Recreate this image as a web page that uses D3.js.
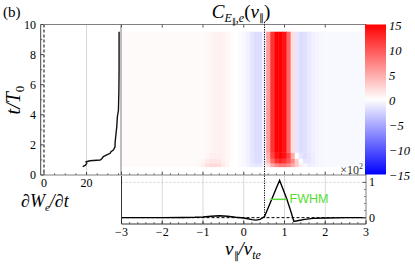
<!DOCTYPE html>
<html><head><meta charset="utf-8">
<script src="https://cdn.jsdelivr.net/npm/d3@7"></script>
<style>html,body{margin:0;padding:0;background:#fff;}svg{display:block;}</style>
</head><body>
<svg id="c" width="415" height="264"></svg>
<script>
// ---------- data ----------
// left panel: dW_e/dt vs t
const tW   = [0.55,0.65,0.78,0.88,0.95,1.0,1.1,1.22,1.33,1.44,1.55,1.66,1.88,2.1,2.54,3.2,3.87,4.3,5.5,7.0,8.5,9.52];
const dWdt = [18.2,19.5,20.1,19.8,21.6,26.4,27.3,27.9,29.5,31.1,31.5,32.6,33.4,33.4,33.7,34.2,34.5,35.0,35.2,35.3,35.3,35.3];
const leftXTicks = [0,20];
const leftYTicks = [0,2,4,6,8,10];

// heatmap: v bin centres (-3..3 step 0.1) and rows in time
const vBins = d3.range(61).map(i => +(-3 + 0.1*i).toFixed(1));
const tRowEdges = [0.55,0.8,1.1,1.5,9.52];
const heatRow0 = [0.3,0.3,0.3,0.3,0.3,0.3,0.3,0.3,0.3,0.3,0.3,0.3,0.3,0.3,0.3,0.3,0.3,0.3,0.3,0.5,
  1.0,1.8,2.2,2.2,2.0,1.2,0.6,0.2,0.0,-0.2,
  -0.4,-0.8,-1.2,-1.5,-1.5,-0.5,2,5,7,8,
  8,7,5,3,1,-0.5,-1.0,-0.8,-0.6,-0.5,
  -0.4,-0.4,-0.4,-0.4,-0.4,-0.4,-0.4,-0.4,-0.4,-0.4,-0.4];
const heatRow1 = [0.3,0.3,0.3,0.3,0.3,0.3,0.3,0.3,0.3,0.3,0.3,0.3,0.3,0.3,0.3,0.3,0.3,0.3,0.3,0.4,
  0.6,1.2,1.5,1.5,1.4,0.9,0.5,0.2,0.0,-0.2,
  -0.4,-0.8,-1.5,-2.0,-2.0,-0.8,4,9,12,13,
  12,10,7,3,0,-1.5,-1.5,-1.0,-0.6,-0.5,
  -0.4,-0.4,-0.4,-0.4,-0.4,-0.4,-0.4,-0.4,-0.4,-0.4,-0.4];
const heatRow2 = [0.3,0.3,0.3,0.3,0.3,0.3,0.3,0.3,0.3,0.3,0.3,0.3,0.3,0.3,0.3,0.3,0.3,0.3,0.3,0.3,
  0.3,0.5,0.8,1.0,1.0,0.8,0.5,0.2,0.0,-0.2,
  -0.4,-0.8,-1.5,-2.0,-2.0,-0.8,5,11,14,15,
  14,11,5,0,-1.5,-2.0,-1.5,-1.0,-0.6,-0.5,
  -0.4,-0.4,-0.4,-0.4,-0.4,-0.4,-0.4,-0.4,-0.4,-0.4,-0.4];
const heatSteady = [0.3,0.3,0.3,0.3,0.3,0.3,0.3,0.3,0.3,0.3,0.3,0.3,0.3,0.3,0.3,0.3,0.3,0.3,0.3,0.3,
  0.3,0.4,0.6,0.8,0.9,0.8,0.5,0.2,0.0,-0.2,
  -0.4,-0.8,-1.5,-2.0,-2.0,-0.8,6,12,15,15,
  14,9,2,-1.5,-2.0,-1.8,-1.2,-0.8,-0.6,-0.5,
  -0.4,-0.4,-0.4,-0.4,-0.4,-0.4,-0.4,-0.4,-0.4,-0.4,-0.4];
const heatRows = [heatRow0, heatRow1, heatRow2, heatSteady];
const cbTicks = [15,10,5,0,-5,-10,-15];

// bottom panel: time-integrated correlation (x10^2)
const vCurve = [-3,-2.5,-2,-1.5,-1.2,-1.0,-0.8,-0.6,-0.4,-0.2,0,0.1,0.2,0.3,0.4,0.51,0.6,0.7,0.8,0.88,0.95,1.05,1.15,1.23,1.35,1.5,1.7,2.0,2.5,3.0];
const corr   = [0,0,0,0.005,0.01,0.02,0.04,0.055,0.04,0.01,-0.01,-0.03,-0.055,-0.07,-0.05,0.03,0.28,0.56,0.84,1.06,0.85,0.55,0.2,-0.11,-0.08,-0.05,-0.02,-0.01,0,0];
const vTicks = [-3,-2,-1,0,1,2,3];
const corrTicks = [0,1];
const fwhmV = [0.65,1.05];
const fwhmLevel = [0.52];
const vRes = [0.51];

// ---------- scales ----------
const svg = d3.select("#c");
const xL = d3.scaleLinear().domain([-1.55,36.2]).range([40.7,121]);
const yT = d3.scaleLinear().domain([0,10]).range([175,24.5]);
const xV = d3.scaleLinear().domain([-3,3]).range([121.5,366]);
const yC = d3.scaleLinear().domain([-0.18,1.21]).range([224,175]);
const cb = d3.scaleLinear().domain([-15,15]).range([174.5,24.5]);
const col = d3.scaleLinear().domain([-15,0,15]).range(["#0000ff","#ffffff","#ff0000"]).clamp(true);

const serif = "'Liberation Serif','Times New Roman',serif";
const frame = "#808080";

// ---------- heatmap ----------
const cells = [];
heatRows.forEach((row, r) => row.forEach((val, i) => {
  cells.push({v0: Math.max(-3, vBins[i]-0.05), v1: Math.min(3, vBins[i]+0.05), t0: tRowEdges[r], t1: tRowEdges[r+1], val});
}));
svg.append("g").selectAll("rect").data(cells).join("rect")
  .attr("x", d => xV(d.v0)).attr("width", d => xV(d.v1)-xV(d.v0)+0.4)
  .attr("y", d => yT(d.t1)).attr("height", d => yT(d.t0)-yT(d.t1)+0.4)
  .attr("fill", d => col(d.val));

// ---------- left panel ----------
svg.append("line").attr("x1", xL(20)).attr("x2", xL(20)).attr("y1", yT(10)).attr("y2", yT(0)).attr("stroke","#cccccc").attr("stroke-width",0.8);
svg.append("line").attr("x1", xL(0)).attr("x2", xL(0)).attr("y1", yT(10)).attr("y2", yT(0)).attr("stroke","#000").attr("stroke-width",1).attr("stroke-dasharray","3,2");
svg.append("path").datum(d3.zip(dWdt,tW))
  .attr("d", d3.line().x(d => xL(d[0])).y(d => yT(d[1])))
  .attr("fill","none").attr("stroke","#111").attr("stroke-width",1.4);
svg.append("line").attr("x1",40.7).attr("x2",40.7).attr("y1",24.5).attr("y2",175).attr("stroke","#444").attr("stroke-width",1);
svg.append("line").attr("x1",40.7).attr("x2",366).attr("y1",24.5).attr("y2",24.5).attr("stroke",frame).attr("stroke-width",1);
svg.append("line").attr("x1",40.7).attr("x2",366).attr("y1",175).attr("y2",175).attr("stroke",frame).attr("stroke-width",1);
svg.append("line").attr("x1",121).attr("x2",121).attr("y1",24.5).attr("y2",175).attr("stroke",frame).attr("stroke-width",1);
const gLy = svg.append("g");
leftYTicks.forEach(t => {
  gLy.append("line").attr("x1",40.7).attr("x2",43.5).attr("y1",yT(t)).attr("y2",yT(t)).attr("stroke","#444");
  gLy.append("text").attr("x",36).attr("y",yT(t)+4).attr("text-anchor","end").attr("font-family",serif).attr("font-size",12).text(t);
});
d3.range(1,10,2).forEach(t => gLy.append("line").attr("x1",40.7).attr("x2",42.3).attr("y1",yT(t)).attr("y2",yT(t)).attr("stroke","#666"));
leftXTicks.forEach(t => {
  svg.append("line").attr("x1",xL(t)).attr("x2",xL(t)).attr("y1",175).attr("y2",172).attr("stroke","#444");
  svg.append("text").attr("x",xL(t)).attr("y",187).attr("text-anchor","middle").attr("font-family",serif).attr("font-size",12).text(t);
});
[5,10,15,25,30,35].forEach(t => svg.append("line").attr("x1",xL(t)).attr("x2",xL(t)).attr("y1",175).attr("y2",173.3).attr("stroke","#666"));

vTicks.forEach(v => {
  svg.append("line").attr("x1",xV(v)).attr("x2",xV(v)).attr("y1",175).attr("y2",171.5).attr("stroke","#555");
  svg.append("line").attr("x1",xV(v)).attr("x2",xV(v)).attr("y1",24.5).attr("y2",27.5).attr("stroke","#555");
});
d3.range(-2.8,3,0.2).forEach(v => {
  svg.append("line").attr("x1",xV(v)).attr("x2",xV(v)).attr("y1",175).attr("y2",173.2).attr("stroke","#777");
});

// ---------- colorbar ----------
const defs = svg.append("defs");
const grad = defs.append("linearGradient").attr("id","cbg").attr("x1",0).attr("x2",0).attr("y1",1).attr("y2",0);
[-15,0,15].forEach(v => grad.append("stop").attr("offset",(v+15)/30).attr("stop-color",col(v)));
svg.append("rect").attr("x",365).attr("y",cb(15)).attr("width",21).attr("height",cb(-15)-cb(15)).attr("fill","url(#cbg)");
cbTicks.forEach(v => {
  svg.append("text").attr("x",389).attr("y",cb(v)+5).attr("font-family",serif).attr("font-style","italic").attr("font-size",12.5)
    .text(v < 0 ? "\u2212" + Math.abs(v) : v);
});
const xt = svg.append("text").attr("x",363).attr("y",174).attr("text-anchor","end").attr("font-family",serif).attr("font-size",12).attr("fill","#333");
xt.append("tspan").text("\u00d710");
xt.append("tspan").attr("dy",-5).attr("font-size",8).text("2");

// ---------- bottom panel ----------
const gB = svg.append("g");
[-2,-1,0,1,2].forEach(v => gB.append("line").attr("x1",xV(v)).attr("x2",xV(v)).attr("y1",175).attr("y2",224).attr("stroke","#d0d0d0").attr("stroke-width",0.8));
gB.append("line").attr("x1",xV(-3)).attr("x2",xV(3)).attr("y1",yC(1)).attr("y2",yC(1)).attr("stroke","#c8c8c8").attr("stroke-width",0.8).attr("stroke-dasharray","2,2");
gB.append("line").attr("x1",xV(-3)).attr("x2",xV(3)).attr("y1",yC(0)).attr("y2",yC(0)).attr("stroke","#000").attr("stroke-width",1).attr("stroke-dasharray","3,2");
svg.append("line").attr("x1",xV(vRes[0])).attr("x2",xV(vRes[0])).attr("y1",22).attr("y2",yC(0)).attr("stroke","#000").attr("stroke-width",1).attr("stroke-dasharray","1.2,1.2");
gB.append("path").datum(d3.zip(vCurve,corr))
  .attr("d", d3.line().x(d => xV(d[0])).y(d => yC(d[1])))
  .attr("fill","none").attr("stroke","#000").attr("stroke-width",1.4);
gB.append("line").attr("x1",xV(fwhmV[0])).attr("x2",xV(fwhmV[1])).attr("y1",yC(fwhmLevel[0])).attr("y2",yC(fwhmLevel[0])).attr("stroke","#55dd33").attr("stroke-width",1.5);
gB.append("text").attr("x",289.5).attr("y",202.5).attr("font-family","'Liberation Sans',Arial,sans-serif").attr("font-size",12.5).attr("fill","#55dd33").text("FWHM");
gB.append("line").attr("x1",121.5).attr("x2",121.5).attr("y1",176).attr("y2",224).attr("stroke","#333");
gB.append("line").attr("x1",121.5).attr("x2",366).attr("y1",224).attr("y2",224).attr("stroke","#333");
gB.append("line").attr("x1",366).attr("x2",366).attr("y1",175).attr("y2",224).attr("stroke",frame);
vTicks.forEach(v => {
  gB.append("line").attr("x1",xV(v)).attr("x2",xV(v)).attr("y1",224).attr("y2",220.5).attr("stroke","#333");
  gB.append("text").attr("x",xV(v)).attr("y",236).attr("text-anchor","middle").attr("font-family",serif).attr("font-size",12)
    .text(v < 0 ? "\u2212" + Math.abs(v) : v);
});
d3.range(-2.8,3,0.2).forEach(v => gB.append("line").attr("x1",xV(v)).attr("x2",xV(v)).attr("y1",224).attr("y2",222.2).attr("stroke","#555"));
corrTicks.forEach(c => {
  gB.append("line").attr("x1",366).attr("x2",362.5).attr("y1",yC(c)).attr("y2",yC(c)).attr("stroke","#555");
  gB.append("text").attr("x",369).attr("y",yC(c)+4).attr("font-family",serif).attr("font-size",12).text(c);
});
[0.2,0.4,0.6,0.8].forEach(c => gB.append("line").attr("x1",366).attr("x2",364).attr("y1",yC(c)).attr("y2",yC(c)).attr("stroke","#888"));

// ---------- labels ----------
svg.append("text").attr("x",3).attr("y",17).attr("font-family",serif).attr("font-size",15).text("(b)");
const ttl = svg.append("text").attr("x",241).attr("y",18).attr("text-anchor","middle").attr("font-family",serif).attr("font-size",19);
ttl.append("tspan").attr("font-style","italic").text("C");
ttl.append("tspan").attr("font-style","italic").attr("font-size",12).attr("dy",4).text("E");
ttl.append("tspan").attr("font-size",8).attr("dy",2).text("\u2225");
ttl.append("tspan").attr("font-size",12).attr("dy",-2).text(",");
ttl.append("tspan").attr("font-style","italic").attr("font-size",12).text("e");
ttl.append("tspan").attr("dy",-4).text("(");
ttl.append("tspan").attr("font-style","italic").text("v");
ttl.append("tspan").attr("font-size",10).attr("dy",3).text("\u2225");
ttl.append("tspan").attr("dy",-3).text(")");

const yl = svg.append("text").attr("transform","translate(20,100) rotate(-90)").attr("text-anchor","middle").attr("font-family",serif).attr("font-size",20);
yl.append("tspan").attr("font-style","italic").text("t/T");
yl.append("tspan").attr("font-size",13).attr("dy",4).text("0");

const wl = svg.append("text").attr("x",21).attr("y",207).attr("font-family",serif).attr("font-size",18);
wl.append("tspan").attr("font-style","italic").text("\u2202W");
wl.append("tspan").attr("font-style","italic").attr("font-size",11).attr("dy",4).text("e");
wl.append("tspan").attr("font-style","italic").attr("dy",-4).text("/\u2202t");

const vl = svg.append("text").attr("x",243).attr("y",255).attr("text-anchor","middle").attr("font-family",serif).attr("font-size",19);
vl.append("tspan").attr("font-style","italic").text("v");
vl.append("tspan").attr("font-size",10).attr("dy",4).text("\u2225");
vl.append("tspan").attr("font-style","italic").attr("dy",-4).text("/v");
vl.append("tspan").attr("font-style","italic").attr("font-size",12).attr("dy",4).text("te");
</script>
</body></html>
